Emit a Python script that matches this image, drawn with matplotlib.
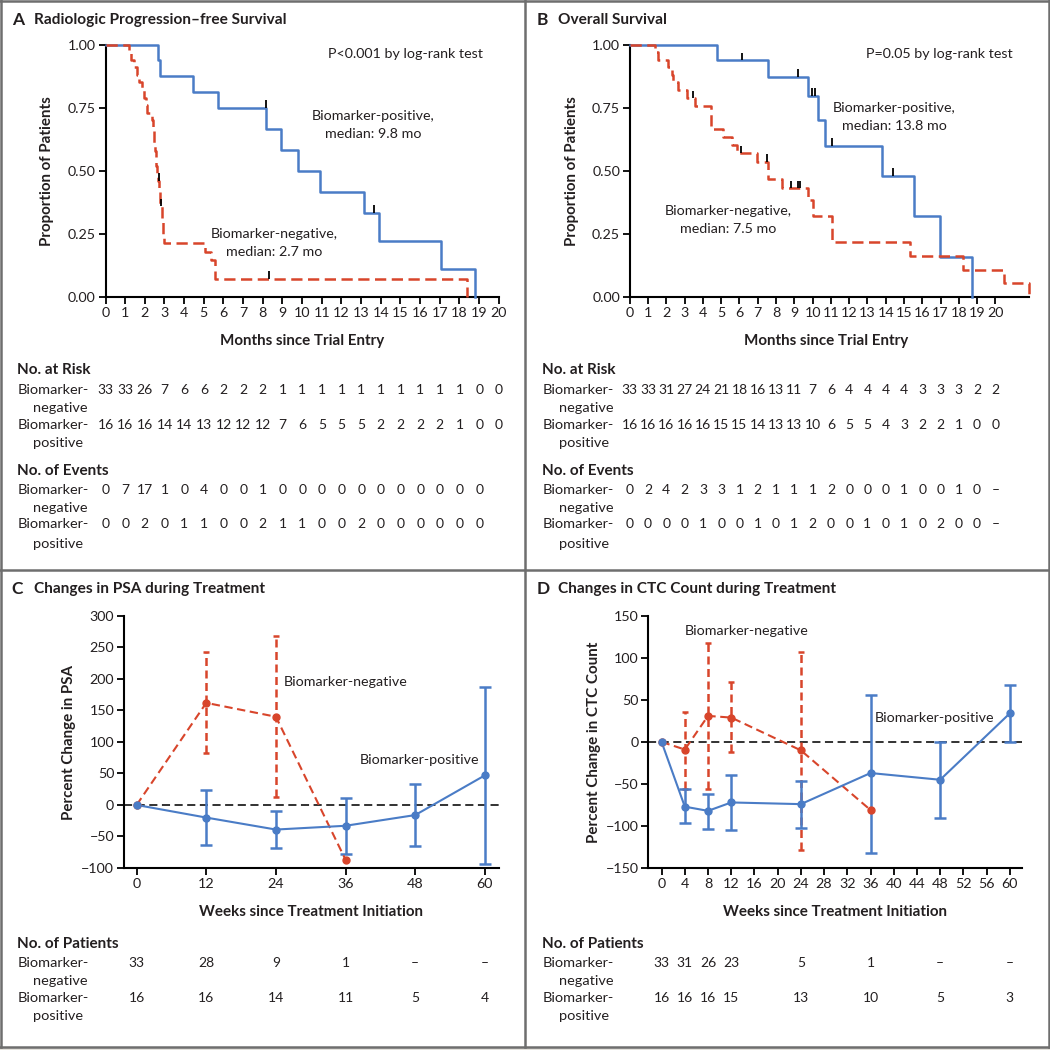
import numpy as np
import matplotlib
matplotlib.use("Agg")
import matplotlib.pyplot as plt
from matplotlib.lines import Line2D
from matplotlib.patches import Rectangle
from matplotlib.transforms import blended_transform_factory

plt.rcParams['font.family'] = ['Lato', 'DejaVu Sans']

# ---------------- data ----------------
months_a = list(range(0, 21))
months_b = list(range(0, 21))

# Panel A: radiologic PFS (Kaplan-Meier steps)
pfs_pos_t = [0, 2.67, 2.76, 4.43, 5.70, 8.17, 8.90, 9.79, 10.90, 13.16, 13.90, 17.07, 18.80]
pfs_pos_s = [1, 0.9375, 0.875, 0.8125, 0.75, 0.667, 0.583, 0.50, 0.417, 0.333, 0.222, 0.111, 0]
pfs_pos_cens_t = [8.17, 13.65]
pfs_pos_cens_s = [0.75, 0.333]
pfs_neg_t = [0, 1.19, 1.28, 1.45, 1.62, 1.70, 1.87, 1.96, 2.05, 2.13, 2.38, 2.42, 2.45, 2.48,
             2.52, 2.55, 2.58, 2.62, 2.65, 2.72, 2.75, 2.78, 2.85, 2.88, 2.91, 2.94, 2.98,
             5.06, 5.35, 5.55, 18.40]
pfs_neg_s = [1, 0.97, 0.94, 0.91, 0.88, 0.85, 0.82, 0.79, 0.76, 0.73, 0.70, 0.67, 0.64, 0.61,
             0.58, 0.55, 0.52, 0.49, 0.46, 0.43, 0.40, 0.37, 0.34, 0.31, 0.28, 0.25, 0.215,
             0.18, 0.145, 0.072, 0]
pfs_neg_cens_t = [2.72, 2.84, 8.30]
pfs_neg_cens_s = [0.46, 0.36, 0.072]

# Panel B: overall survival
os_pos_t = [0, 4.75, 7.58, 9.73, 10.31, 10.68, 13.81, 15.56, 16.97, 18.70]
os_pos_s = [1, 0.9375, 0.873, 0.797, 0.70, 0.598, 0.479, 0.32, 0.16, 0]
os_pos_cens_t = [6.12, 9.22, 9.95, 10.13, 11.04, 14.38]
os_pos_cens_s = [0.9375, 0.873, 0.797, 0.797, 0.598, 0.479]
os_neg_t = [0, 1.38, 1.56, 2.11, 2.29, 2.38, 2.65, 3.11, 3.57, 4.44, 5.12, 5.57, 5.85, 6.94,
            7.54, 8.31, 9.73, 10.04, 11.08, 15.33, 18.22, 20.45, 21.84]
os_neg_s = [1, 0.97, 0.94, 0.91, 0.88, 0.85, 0.82, 0.787, 0.757, 0.664, 0.635, 0.602, 0.569,
            0.536, 0.466, 0.430, 0.384, 0.322, 0.216, 0.162, 0.108, 0.054, 0]
os_neg_cens_t = [3.47, 6.08, 7.49, 8.82, 9.22, 9.30]
os_neg_cens_s = [0.787, 0.569, 0.536, 0.430, 0.430, 0.430]

# risk / event tables
pfs_risk_neg = ["33", "33", "26", "7", "6", "6", "2", "2", "2", "1", "1", "1", "1", "1", "1", "1", "1", "1", "1", "0", "0"]
pfs_risk_pos = ["16", "16", "16", "14", "14", "13", "12", "12", "12", "7", "6", "5", "5", "5", "2", "2", "2", "2", "1", "0", "0"]
pfs_ev_neg = ["0", "7", "17", "1", "0", "4", "0", "0", "1", "0", "0", "0", "0", "0", "0", "0", "0", "0", "0", "0"]
pfs_ev_pos = ["0", "0", "2", "0", "1", "1", "0", "0", "2", "1", "1", "0", "0", "2", "0", "0", "0", "0", "0", "0"]
os_risk_neg = ["33", "33", "31", "27", "24", "21", "18", "16", "13", "11", "7", "6", "4", "4", "4", "4", "3", "3", "3", "2", "2"]
os_risk_pos = ["16", "16", "16", "16", "16", "15", "15", "14", "13", "13", "10", "6", "5", "5", "4", "3", "2", "2", "1", "0", "0"]
os_ev_neg = ["0", "2", "4", "2", "3", "3", "1", "2", "1", "1", "1", "2", "0", "0", "0", "1", "0", "0", "1", "0", "\u2013"]
os_ev_pos = ["0", "0", "0", "0", "1", "0", "0", "1", "0", "1", "2", "0", "0", "1", "0", "1", "0", "2", "0", "0", "\u2013"]

# Panel C: PSA change
psa_weeks = [0, 12, 24, 36, 48, 60]
psa_neg_mean = [0, 162, 140, -87]
psa_neg_lo = [np.nan, 82, 12, np.nan]
psa_neg_hi = [np.nan, 243, 268, np.nan]
psa_pos_mean = [0, -20, -39, -33, -16, 47]
psa_pos_lo = [np.nan, -64, -69, -78, -65, -93]
psa_pos_hi = [np.nan, 24, -10, 11, 33, 187]
psa_n_neg = ["33", "28", "9", "1", "\u2013", "\u2013"]
psa_n_pos = ["16", "16", "14", "11", "5", "4"]

# Panel D: CTC change
ctc_ticks = list(range(0, 61, 4))
ctc_neg_weeks = [0, 4, 8, 12, 24, 36]
ctc_neg_mean = [0, -9, 31, 29, -10, -81]
ctc_neg_lo = [np.nan, -56, -56, -12, -128, np.nan]
ctc_neg_hi = [np.nan, 36, 118, 71, 107, np.nan]
ctc_pos_weeks = [0, 4, 8, 12, 24, 36, 48, 60]
ctc_pos_mean = [0, -77, -82, -72, -74, -37, -45, 34]
ctc_pos_lo = [np.nan, -97, -103, -105, -102, -132, -91, 0]
ctc_pos_hi = [np.nan, -56, -62, -39, -46, 56, 0, 68]
ctc_n_weeks = [0, 4, 8, 12, 24, 36, 48, 60]
ctc_n_neg = ["33", "31", "26", "23", "5", "1", "\u2013", "\u2013"]
ctc_n_pos = ["16", "16", "16", "15", "13", "10", "5", "3"]

# ---------------- styling ----------------
W = H = 1050
BLUE = '#4a7cc6'
RED = '#d8452b'
FRAME = '#6e6e6e'
TXT = '#231f20'
FS_TICK = 10.3
FS_NUM = 10.0

fig = plt.figure(figsize=(10.5, 10.5), dpi=100)
fig.patch.set_facecolor('white')
renderer = fig.canvas.get_renderer()


def fx(x):
    return x / W


def fy(y):
    return 1 - y / H


def size_for(s, width, weight='normal'):
    t = fig.text(0.5, 0.5, s, size=10, weight=weight)
    w = t.get_window_extent(renderer).width
    t.remove()
    return 10 * width / w


# one common size per text category, derived from reference text widths
S_ANN = size_for('Biomarker-positive,', 123.3)
S_TAB = (size_for('Biomarker-', 76) * size_for('negative', 51)) ** 0.5
S_HEAD = (size_for('No. at Risk', 74.7, 'bold') * size_for('No. of Events', 91.4, 'bold')
          * size_for('No. of Patients', 101.4, 'bold')) ** (1 / 3)
S_LAB = (size_for('Months since Trial Entry', 167.4, 'bold')
         * size_for('Weeks since Treatment Initiation', 225, 'bold')
         * size_for('Proportion of Patients', 149, 'bold')) ** (1 / 3)
S_TITLE = (size_for('Radiologic Progression\u2013free Survival', 249.4, 'bold')
           * size_for('Changes in CTC Count during Treatment', 280.2, 'bold')) ** 0.5
S_P = (size_for('P<0.001 by log-rank test', 154.7)
       * size_for('P=0.05 by log-rank test', 147.3)) ** 0.5
S_P = min(S_P, S_ANN * 1.08)


def T(x, y, s, ha='left', size=10, weight='normal', **kw):
    return fig.text(fx(x), fy(y), s, ha=ha, va='center', size=size,
                    weight=weight, color=TXT, **kw)


def YL(x, y, s):
    fig.text(fx(x), fy(y), s, rotation=90, ha='center', va='center',
             size=S_LAB, weight='bold', color=TXT)


def axes_px(left, top, right, bottom):
    ax = fig.add_axes([fx(left), fy(bottom), (right - left) / W, (bottom - top) / H])
    ax.set_facecolor('none')
    for sp in ['top', 'right']:
        ax.spines[sp].set_visible(False)
    for sp in ['left', 'bottom']:
        ax.spines[sp].set_linewidth(1.5)
        ax.spines[sp].set_color('black')
    ax.tick_params(direction='out', length=5, width=1.3, labelsize=FS_TICK,
                   colors='black', labelcolor=TXT, pad=2)
    return ax


def km(ax, t, s, ct, cs, color, dashed):
    ls = (0, (4.5, 2.2)) if dashed else '-'
    ax.step(t, s, where='post', color=color, lw=1.8, linestyle=ls, clip_on=False,
            zorder=3)
    ax.vlines(ct, cs, np.array(cs) + 0.03, color='black', lw=1.3, zorder=4)


def row(ax, y, vals, xs, size=FS_NUM):
    tr = blended_transform_factory(ax.transData, fig.transFigure)
    for xv, v in zip(xs, vals):
        fig.text(xv, fy(y), v, transform=tr, ha='center', va='center',
                 size=size, color=TXT)


def table_labels(x0, ys, header):
    T(x0, ys[0], header, size=S_HEAD, weight='bold')
    T(x0, ys[1], 'Biomarker-', size=S_TAB)
    T(x0 + 16.1, ys[2], 'negative', size=S_TAB)
    T(x0, ys[3], 'Biomarker-', size=S_TAB)
    T(x0 + 16.1, ys[4], 'positive', size=S_TAB)


# ---------------- frame ----------------
def hline(y, x0, x1):
    fig.add_artist(Line2D([fx(x0), fx(x1)], [fy(y), fy(y)], color=FRAME, lw=1.8,
                          transform=fig.transFigure))


def vline(x, y0, y1):
    fig.add_artist(Line2D([fx(x), fx(x)], [fy(y0), fy(y1)], color=FRAME, lw=1.8,
                          transform=fig.transFigure))


hline(1.2, 0, 1050)
hline(570, 0, 1050)
hline(1046.5, 0, 1050)
vline(1.2, 0, 1047)
vline(524.5, 0, 1047)
vline(1048.5, 0, 1047)
fig.add_artist(Rectangle((0, 0), 1, fy(1047.5), transform=fig.transFigure,
                         color='#e4e2dc', lw=0))

# ---------------- Panel A ----------------
axA = axes_px(105.5, 44.5, 498.8, 297)
axA.set_xlim(0, 20)
axA.set_ylim(0, 1)
axA.set_xticks(months_a)
axA.set_yticks([0, 0.25, 0.5, 0.75, 1.0])
axA.set_yticklabels(['0.00', '0.25', '0.50', '0.75', '1.00'])
km(axA, pfs_pos_t, pfs_pos_s, pfs_pos_cens_t, pfs_pos_cens_s, BLUE, False)
km(axA, pfs_neg_t, pfs_neg_s, pfs_neg_cens_t, pfs_neg_cens_s, RED, True)

T(11.7, 20, 'A', size=12.5, weight='bold')
T(34.5, 20, 'Radiologic Progression\u2013free Survival', size=S_TITLE, weight='bold')
YL(47, 170.7, 'Proportion of Patients')
T(302, 340.8, 'Months since Trial Entry', ha='center', size=S_LAB, weight='bold')
T(482.8, 53.6, 'P<0.001 by log-rank test', ha='right', size=S_P)
T(373.3, 115.8, 'Biomarker-positive,', ha='center', size=S_ANN)
T(373.3, 133.9, 'median: 9.8 mo', ha='center', size=S_ANN)
T(273.9, 233.7, 'Biomarker-negative,', ha='center', size=S_ANN)
T(273.9, 251.8, 'median: 2.7 mo', ha='center', size=S_ANN)

table_labels(17.4, [369.6, 389.7, 407.5, 424.9, 443.5], 'No. at Risk')
table_labels(17.4, [470.7, 489.6, 507.5, 524.5, 544], 'No. of Events')
row(axA, 389.7, pfs_risk_neg, months_a)
row(axA, 424.9, pfs_risk_pos, months_a)
row(axA, 489.6, pfs_ev_neg, months_a)
row(axA, 524.5, pfs_ev_pos, months_a)

# ---------------- Panel B ----------------
axB = axes_px(629.8, 44.5, 1029.0, 297)
axB.set_xlim(0, 21.84)
axB.set_ylim(0, 1)
axB.set_xticks(months_b)
axB.set_yticks([0, 0.25, 0.5, 0.75, 1.0])
axB.set_yticklabels(['0.00', '0.25', '0.50', '0.75', '1.00'])
km(axB, os_pos_t, os_pos_s, os_pos_cens_t, os_pos_cens_s, BLUE, False)
km(axB, os_neg_t, os_neg_s, os_neg_cens_t, os_neg_cens_s, RED, True)

T(536.7, 20, 'B', size=12.5, weight='bold')
T(558.5, 20, 'Overall Survival', size=S_TITLE, weight='bold')
YL(572, 170.7, 'Proportion of Patients')
T(826, 340.8, 'Months since Trial Entry', ha='center', size=S_LAB, weight='bold')
T(1013.1, 53.6, 'P=0.05 by log-rank test', ha='right', size=S_P)
T(894.3, 107.8, 'Biomarker-positive,', ha='center', size=S_ANN)
T(894.3, 125.5, 'median: 13.8 mo', ha='center', size=S_ANN)
T(728.2, 210.9, 'Biomarker-negative,', ha='center', size=S_ANN)
T(728.2, 229.3, 'median: 7.5 mo', ha='center', size=S_ANN)

table_labels(542.4, [369.6, 389.7, 407.5, 424.9, 443.5], 'No. at Risk')
table_labels(542.4, [470.7, 489.6, 507.5, 524.5, 544], 'No. of Events')
row(axB, 389.7, os_risk_neg, months_b)
row(axB, 424.9, os_risk_pos, months_b)
row(axB, 489.6, os_ev_neg, months_b)
row(axB, 524.5, os_ev_pos, months_b)


# ---------------- Panels C and D ----------------
def errs(ax, x, m, lo, hi, color, dashed, capsize):
    x = np.asarray(x, float)
    m = np.asarray(m, float)
    lo = np.asarray(lo, float)
    hi = np.asarray(hi, float)
    ok = ~np.isnan(lo)
    eb = ax.errorbar(x[ok], m[ok], yerr=[m[ok] - lo[ok], hi[ok] - m[ok]], fmt='none',
                     ecolor=color, elinewidth=1.8, capsize=capsize, capthick=1.8,
                     zorder=3, clip_on=False)
    if dashed:
        for c in eb[2]:
            c.set_linestyle((0, (3.2, 1.8)))


def series(ax, x, m, color, dashed):
    ls = (0, (4, 2.2)) if dashed else '-'
    ax.plot(x, m, color=color, lw=1.5, linestyle=ls, zorder=4, clip_on=False)
    ax.plot(x, m, linestyle='none', marker='o', ms=5, color=color, zorder=5,
            clip_on=False)


axC = axes_px(123.9, 615.9, 498.8, 868.0)
axC.set_xlim(-2.19, 62.4)
axC.set_ylim(-100, 300)
axC.set_xticks(psa_weeks)
axC.set_yticks(range(-100, 301, 50))
axC.set_yticklabels([str(v).replace('-', '\u2212') for v in range(-100, 301, 50)])
axC.axhline(0, color='#222222', lw=1.3, linestyle=(0, (4.5, 2.5)), zorder=2)
errs(axC, psa_weeks[:4], psa_neg_mean, psa_neg_lo, psa_neg_hi, RED, True, 2.5)
errs(axC, psa_weeks, psa_pos_mean, psa_pos_lo, psa_pos_hi, BLUE, False, 4)
series(axC, psa_weeks[:4], psa_neg_mean, RED, True)
series(axC, psa_weeks, psa_pos_mean, BLUE, False)

T(11.7, 589, 'C', size=12.5, weight='bold')
T(34.5, 589, 'Changes in PSA during Treatment', size=S_TITLE, weight='bold')
YL(68.6, 742, 'Percent Change in PSA')
T(311, 912.4, 'Weeks since Treatment Initiation', ha='center', size=S_LAB, weight='bold')
T(283.9, 682.2, 'Biomarker-negative', size=S_ANN)
T(359.9, 760.2, 'Biomarker-positive', size=S_ANN)

table_labels(17.4, [943.5, 962.6, 980.6, 997.8, 1016], 'No. of Patients')
row(axC, 962.6, psa_n_neg, psa_weeks)
row(axC, 997.8, psa_n_pos, psa_weeks)

axD = axes_px(648.3, 615.9, 1021.7, 868.0)
axD.set_xlim(-2.29, 62.05)
axD.set_ylim(-150, 150)
axD.set_xticks(ctc_ticks)
axD.set_yticks(range(-150, 151, 50))
axD.set_yticklabels([str(v).replace('-', '\u2212') for v in range(-150, 151, 50)])
axD.axhline(0, color='#222222', lw=1.3, linestyle=(0, (4.5, 2.5)), zorder=2)
errs(axD, ctc_neg_weeks, ctc_neg_mean, ctc_neg_lo, ctc_neg_hi, RED, True, 2.5)
errs(axD, ctc_pos_weeks, ctc_pos_mean, ctc_pos_lo, ctc_pos_hi, BLUE, False, 4)
series(axD, ctc_neg_weeks, ctc_neg_mean, RED, True)
series(axD, ctc_pos_weeks, ctc_pos_mean, BLUE, False)

T(536.7, 589, 'D', size=12.5, weight='bold')
T(558.5, 589, 'Changes in CTC Count during Treatment', size=S_TITLE, weight='bold')
YL(593.6, 742, 'Percent Change in CTC Count')
T(835, 912.4, 'Weeks since Treatment Initiation', ha='center', size=S_LAB, weight='bold')
T(685, 631.3, 'Biomarker-negative', size=S_ANN)
T(874.8, 718.3, 'Biomarker-positive', size=S_ANN)

table_labels(542.4, [943.5, 962.6, 980.6, 997.8, 1016], 'No. of Patients')
row(axD, 962.6, ctc_n_neg, ctc_n_weeks)
row(axD, 997.8, ctc_n_pos, ctc_n_weeks)

fig.savefig('out.png', dpi=100)
